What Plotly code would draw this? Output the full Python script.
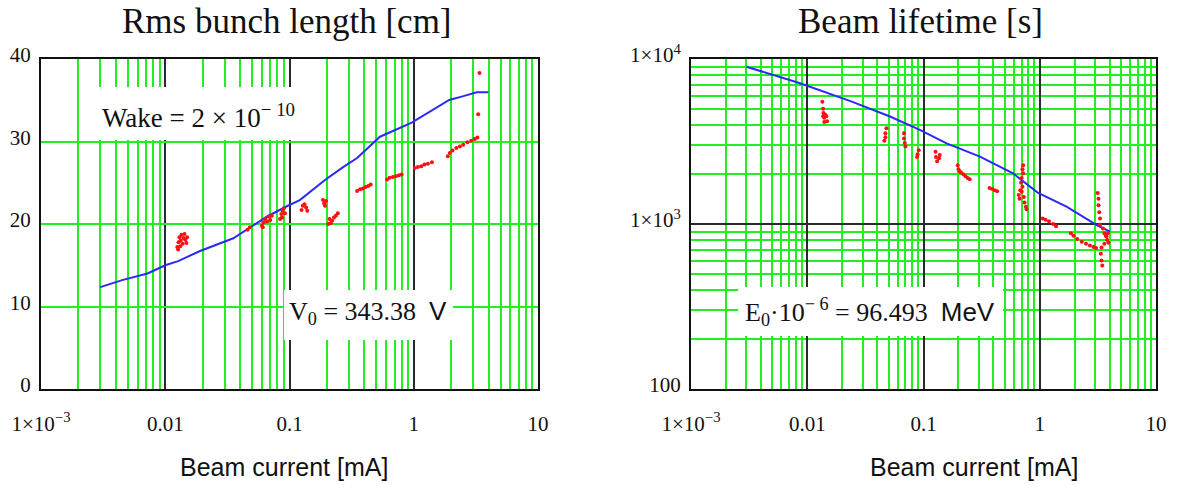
import plotly.graph_objects as go

# ---------------- data ----------------
# Left: Rms bunch length [cm] vs beam current [mA]
bl_model_x = [0.0030, 0.0045, 0.0072, 0.010, 0.0127, 0.01905, 0.0353, 0.0481, 0.0656, 0.096, 0.121, 0.193,
              0.27, 0.35, 0.535, 0.963, 1.35, 1.93, 2.51, 3.21, 3.98]
bl_model_y = [12.35, 13.2, 14.0, 15.0, 15.5, 16.73, 18.27, 19.55, 20.88, 22.18, 22.9, 25.33,
              26.9, 28.0, 30.58, 32.28, 33.6, 35.03, 35.5, 35.96, 35.96]

bl_meas_x = [0.0125, 0.0128, 0.0130, 0.0133, 0.0135, 0.0138, 0.0140, 0.0143, 0.0145, 0.0148, 0.0150, 0.0127, 0.0132,
             0.046, 0.048,
             0.060, 0.062, 0.064, 0.066, 0.068, 0.070, 0.061, 0.072,
             0.084, 0.086, 0.088, 0.090, 0.092, 0.087,
             0.125, 0.128, 0.132, 0.136, 0.139,
             0.186, 0.190, 0.193, 0.197,
             0.205, 0.210, 0.215, 0.220, 0.228, 0.236, 0.245,
             0.35, 0.37, 0.39, 0.41, 0.43, 0.45,
             0.61, 0.64, 0.68, 0.72, 0.76, 0.80,
             1.02, 1.08, 1.15, 1.22, 1.30, 1.40,
             1.88, 1.95, 2.05, 2.20, 2.35, 2.50, 2.70, 2.90, 3.10, 3.25,
             3.30, 3.38]
bl_meas_y = [17.2, 17.8, 18.4, 18.0, 18.7, 17.6, 18.3, 18.8, 18.1, 17.7, 18.4, 16.9, 17.3,
             19.3, 19.6,
             19.8, 20.2, 20.6, 20.3, 20.9, 20.5, 19.6, 21.0,
             20.6, 21.2, 21.6, 21.9, 21.3, 20.8,
             21.7, 22.2, 22.4, 22.0, 21.6,
             22.9, 22.5, 22.2, 22.8,
             20.0, 20.6, 20.1, 20.4, 20.8, 21.0, 21.3,
             24.0, 24.2, 24.3, 24.5, 24.6, 24.8,
             25.4, 25.6, 25.7, 25.8, 25.9, 26.0,
             26.8, 26.9, 27.0, 27.2, 27.3, 27.5,
             28.2, 28.6, 28.9, 29.2, 29.4, 29.6, 29.9, 30.1, 30.3, 30.5,
             33.3, 38.3]

# Right: Beam lifetime [s] vs beam current [mA]
lt_model_x = [0.0030, 0.00867, 0.0245, 0.0515, 0.093, 0.158, 0.306, 0.589, 0.96, 1.70, 3.09, 4.02]
lt_model_y = [8980, 7130, 5500, 4480, 3715, 3083, 2559, 2028, 1549, 1274, 986, 898]

lt_meas_x = [0.0135, 0.0137, 0.0138, 0.0140, 0.0140, 0.0143, 0.0146, 0.0148, 0.0137,
             0.048, 0.047, 0.047, 0.046,
             0.068, 0.068, 0.069, 0.070,
             0.091, 0.089, 0.088,
             0.127, 0.128, 0.131, 0.136, 0.138,
             0.197, 0.200, 0.205, 0.210, 0.220, 0.230, 0.240, 0.250,
             0.37, 0.39, 0.41, 0.43,
             0.72, 0.71, 0.72, 0.70, 0.69, 0.71, 0.70, 0.66, 0.67, 0.73, 0.74, 0.76, 0.77, 0.68,
             1.06, 1.12, 1.20, 1.30, 1.38,
             1.85, 1.95, 2.10, 2.30, 2.50, 2.70, 2.90, 3.05,
             3.15, 3.20, 3.20, 3.25, 3.30, 3.30, 3.50, 3.60, 3.75, 3.80, 3.90, 3.60, 3.40, 3.35, 3.40, 3.45, 3.70, 3.85]
lt_meas_y = [5500, 5000, 4700, 4400, 4150, 4600, 4500, 4200, 4500,
             3800, 3550, 3350, 3200,
             3550, 3300, 3100, 2950,
             2800, 2650, 2550,
             2740, 2550, 2400, 2500, 2620,
             2270, 2150, 2080, 2050, 2000, 1950, 1900, 1870,
             1650, 1630, 1600, 1580,
             2270, 2150, 2030, 1900, 1780, 1680, 1570, 1500, 1420, 1460, 1350, 1270, 1230, 1600,
             1080, 1060, 1040, 1000, 970,
             880, 850, 810, 780, 760, 740, 725, 715,
             1540, 1420, 1300, 1180, 1080, 990, 940, 880, 840, 800, 770, 760, 720, 660, 600, 560, 850, 880]

x_tickvals = [0.001, 0.01, 0.1, 1, 10]
x_ticktext = ["1×10<sup>−3</sup>", "0.01", "0.1", "1", "10"]
yl_tickvals = [0, 10, 20, 30, 40]
yl_ticktext = ["0", "10", "20", "30", "40"]
yr_tickvals = [100, 1000, 10000]
yr_ticktext = ["100", "1×10<sup>3</sup>", "1×10<sup>4</sup>"]

# ---------------- layout helpers ----------------
W, H = 1178, 485
def px(x):
    return x / W
def py(y):
    return 1 - y / H

PLOT_T, PLOT_B = 59, 389
L_X0, L_X1 = 41, 538
R_X0, R_X1 = 691, 1156

SERIF = "Liberation Serif, Times New Roman, serif"
SANS = "Liberation Sans, Arial, sans-serif"
GREEN = "#22ee22"
DARK = "#2a2a2a"
BLUE = "#2a2aff"
RED = "#ff1010"

fig = go.Figure()
fig.add_trace(go.Scatter(x=bl_model_x, y=bl_model_y, mode="lines", line=dict(color=BLUE, width=2),
                         xaxis="x", yaxis="y", showlegend=False))
fig.add_trace(go.Scatter(x=bl_meas_x, y=bl_meas_y, mode="markers", marker=dict(color=RED, size=4),
                         xaxis="x", yaxis="y", showlegend=False))
fig.add_trace(go.Scatter(x=lt_model_x, y=lt_model_y, mode="lines", line=dict(color=BLUE, width=2),
                         xaxis="x2", yaxis="y2", showlegend=False))
fig.add_trace(go.Scatter(x=lt_meas_x, y=lt_meas_y, mode="markers", marker=dict(color=RED, size=4),
                         xaxis="x2", yaxis="y2", showlegend=False))

ydom = [py(PLOT_B), py(PLOT_T)]
common_x = dict(type="log", range=[-3, 1], tickmode="array", tickvals=x_tickvals, ticktext=x_ticktext,
                showgrid=True, gridcolor=DARK, gridwidth=2, automargin=False,
                minor=dict(dtick="D1", showgrid=True, gridcolor=GREEN, gridwidth=2, ticks=""),
                showline=True, linecolor="#111", linewidth=2, mirror=True, ticks="",
                ticklabelstandoff=15, tickfont=dict(family=SERIF, size=21, color="#111"), zeroline=False)
common_y = dict(showline=True, linecolor="#111", linewidth=2, mirror=True, ticks="", ticklen=0,
                automargin=False, zeroline=False, ticklabelstandoff=4, ticklabelshift=-4,
                tickfont=dict(family=SERIF, size=21, color="#111"))

fig.update_layout(
    template="none",
    width=W, height=H, autosize=False,
    margin=dict(l=0, r=0, t=0, b=0, pad=0),
    paper_bgcolor="white", plot_bgcolor="white",
    xaxis=dict(domain=[px(L_X0), px(L_X1)], anchor="y", **common_x),
    xaxis2=dict(domain=[px(R_X0), px(R_X1)], anchor="y2", **common_x),
    yaxis=dict(domain=ydom, anchor="x", range=[0, 40], tickmode="array", tickvals=yl_tickvals,
               ticktext=yl_ticktext, showgrid=True, gridcolor=GREEN, gridwidth=2, **common_y),
    yaxis2=dict(domain=ydom, anchor="x2", type="log", range=[2, 4], tickmode="array", tickvals=yr_tickvals,
                ticktext=yr_ticktext, showgrid=True, gridcolor=DARK, gridwidth=2,
                minor=dict(dtick="D1", showgrid=True, gridcolor=GREEN, gridwidth=2, ticks=""), **common_y),
)

# white boxes behind the in-plot labels (pixel boxes: x0, y0, x1, y1)
for (bx0, by0, bx1, by1) in [(80, 87, 305, 140), (284, 290, 453, 340), (738, 287, 1003, 336)]:
    fig.add_annotation(xref="paper", yref="paper", x=px((bx0 + bx1) / 2), y=py((by0 + by1) / 2),
                       xanchor="center", yanchor="middle", text="\u00a0", showarrow=False,
                       width=bx1 - bx0, height=by1 - by0, bgcolor="white", borderpad=0, borderwidth=0)

ann = []
ann.append(dict(x=px(287), y=py(22), text="Rms bunch length [cm]", font=dict(family=SERIF, size=35, color="#111")))
ann.append(dict(x=px(920), y=py(22), text="Beam lifetime [s]", font=dict(family=SERIF, size=35, color="#111")))
ann.append(dict(x=px(284), y=py(467), text="Beam current [mA]", font=dict(family=SANS, size=25, color="#111")))
ann.append(dict(x=px(974), y=py(467), text="Beam current [mA]", font=dict(family=SANS, size=25, color="#111")))
ann.append(dict(x=px(100), y=py(116), xanchor="left", text="Wake = 2 × 10<sup>− 10</sup>",
                font=dict(family=SERIF, size=27, color="#111")))
ann.append(dict(x=px(287), y=py(312), xanchor="left",
                text="V<sub>0</sub> = 343.38\u00a0\u00a0<span style='font-family:Liberation Sans, Arial'>V</span>",
                font=dict(family=SERIF, size=26, color="#111")))
ann.append(dict(x=px(743), y=py(312), xanchor="left",
                text="E<sub>0</sub>·10<sup>− 6</sup> = 96.493\u00a0\u00a0<span style='font-family:Liberation Sans, Arial'>MeV</span>",
                font=dict(family=SERIF, size=26, color="#111")))
for a in ann:
    a.setdefault("xanchor", "center")
    fig.add_annotation(xref="paper", yref="paper", yanchor="middle", showarrow=False, **a)

fig.write_html("out.html", config={"displayModeBar": False},
               post_script="document.body.style.margin='0';")
